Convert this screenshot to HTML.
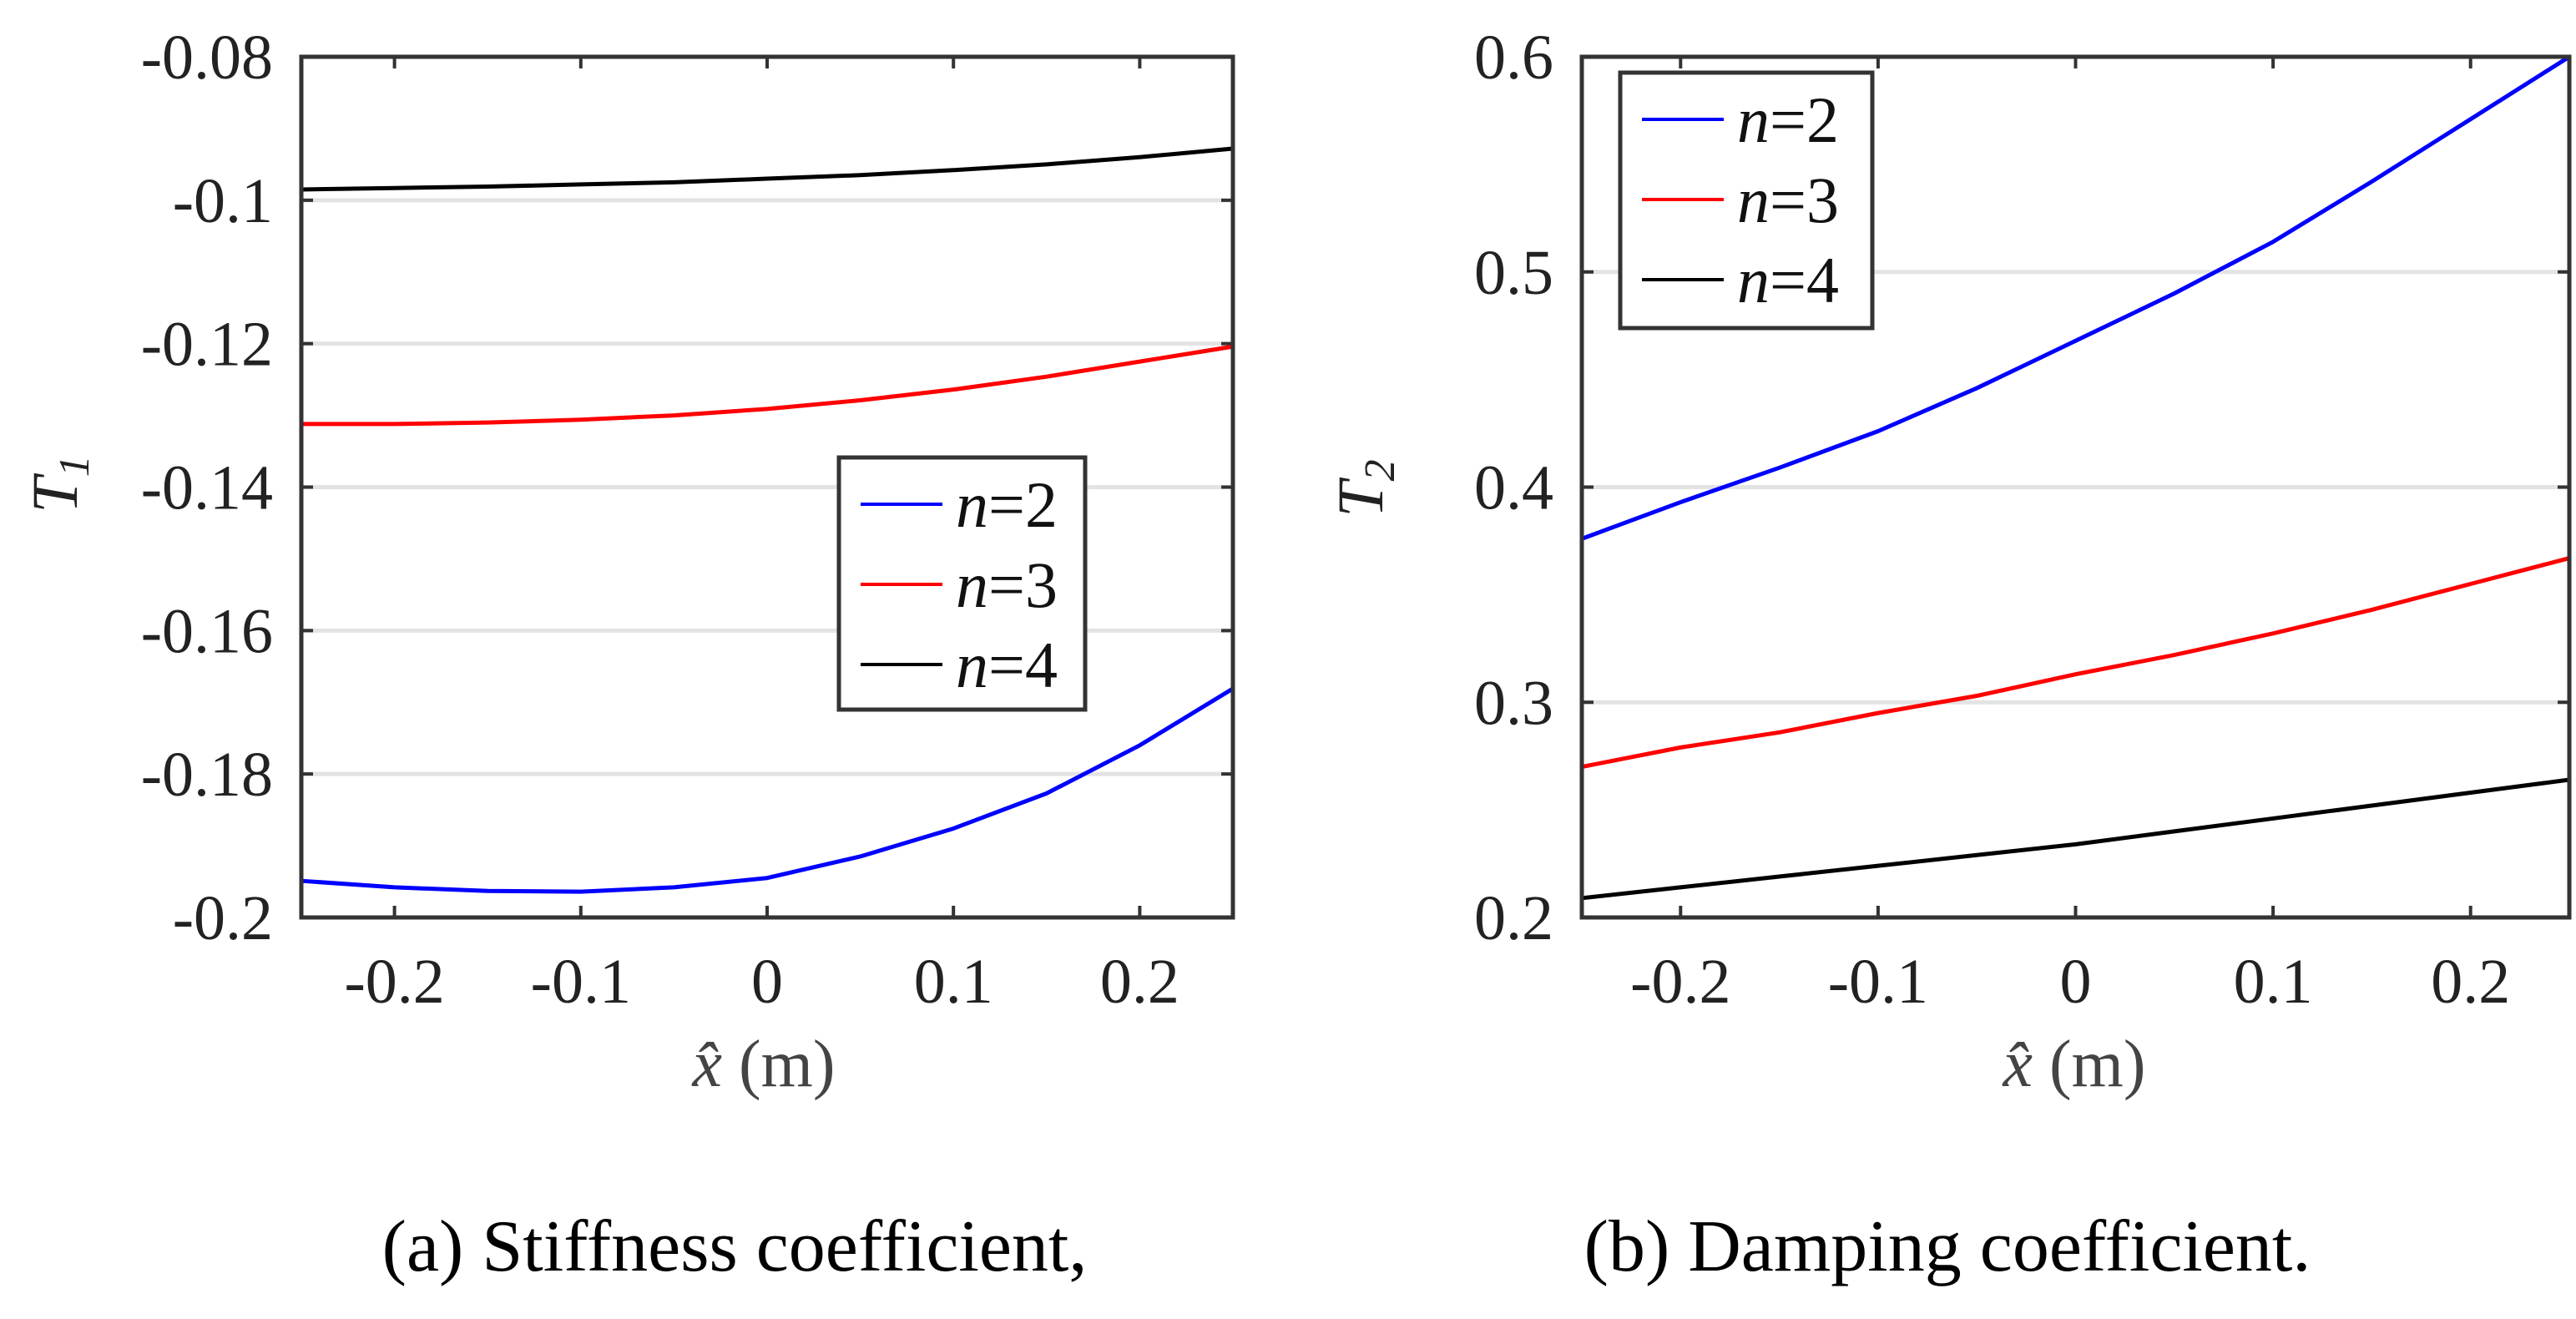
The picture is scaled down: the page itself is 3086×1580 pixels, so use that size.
<!DOCTYPE html>
<html><head><meta charset="utf-8"><style>
html,body{margin:0;padding:0;background:#fff;}
svg{display:block;}
</style></head><body>
<svg id="fig" width="3086" height="1580" viewBox="0 0 3086 1580" xmlns="http://www.w3.org/2000/svg" font-family="Liberation Serif, serif">
<g id="pa"></g>
<g id="pb"></g>
<text x="880" y="1522" font-size="88" text-anchor="middle" fill="#000">(a) Stiffness coefficient,</text>
<text x="2333" y="1522" font-size="88" text-anchor="middle" fill="#000">(b) Damping coefficient.</text>
</svg>
<script>
const xs = [-0.25,-0.2,-0.15,-0.1,-0.05,0,0.05,0.1,0.15,0.2,0.25];
const xTicks = [-0.2,-0.1,0,0.1,0.2];
const xTickLabels = ["-0.2","-0.1","0","0.1","0.2"];
const seriesNames = ["n=2","n=3","n=4"];
const seriesColors = ["#0000ff","#ff0000","#000000"];
const t1N2 = [-0.1949,-0.1958,-0.1963,-0.1964,-0.1958,-0.1945,-0.1915,-0.1876,-0.1827,-0.1760,-0.1681];
const t1N3 = [-0.1312,-0.1312,-0.1310,-0.1306,-0.1300,-0.1291,-0.1279,-0.1264,-0.1246,-0.1225,-0.1204];
const t1N4 = [-0.0985,-0.0983,-0.0981,-0.0978,-0.0975,-0.0970,-0.0965,-0.0958,-0.0950,-0.0940,-0.0928];
const t1Ticks = [-0.2,-0.18,-0.16,-0.14,-0.12,-0.1,-0.08];
const t1TickLabels = ["-0.2","-0.18","-0.16","-0.14","-0.12","-0.1","-0.08"];
const t2N2 = [0.376,0.393,0.409,0.426,0.446,0.468,0.490,0.514,0.542,0.571,0.600];
const t2N3 = [0.270,0.279,0.286,0.295,0.303,0.313,0.322,0.332,0.343,0.355,0.367];
const t2N4 = [0.209,0.214,0.219,0.224,0.229,0.234,0.240,0.246,0.252,0.258,0.264];
const t2Ticks = [0.2,0.3,0.4,0.5,0.6];
const t2TickLabels = ["0.2","0.3","0.4","0.5","0.6"];

const NS="http://www.w3.org/2000/svg";
function mk(parent,tag,attrs){const e=document.createElementNS(NS,tag);for(const k in attrs)e.setAttribute(k,attrs[k]);parent.appendChild(e);return e;}

function panel(g,cfg){
  const {L,R,T,B,ymin,ymax,yTicks,yLabels,series,legend,ylab,ysub,xlabCx}=cfg;
  const sx=v=>L+(v+0.25)/0.5*(R-L);
  const sy=v=>B-(v-ymin)/(ymax-ymin)*(B-T);
  yTicks.forEach((v,i)=>{
    if(v!==ymin&&v!==ymax){
      const gl=mk(g,'line',{x1:L,x2:R,y1:sy(v),y2:sy(v),stroke:'#e3e3e3','stroke-width':5});
      
      
    }
    const tk=mk(g,'path',{d:`M${L},${sy(v)}h14M${R},${sy(v)}h-14`,stroke:'#333','stroke-width':4});
    
    
    const t=mk(g,'text',{x:L-34,y:sy(v)+26,'font-size':76,'text-anchor':'end',fill:'#222'});
    t.textContent=yLabels[i];
    
    
  });
  xTicks.forEach((v,i)=>{
    const tk=mk(g,'path',{d:`M${sx(v)},${B}v-14M${sx(v)},${T}v14`,stroke:'#333','stroke-width':4});
    
    
    const t=mk(g,'text',{x:sx(v),y:B+102,'font-size':76,'text-anchor':'middle',fill:'#222'});
    t.textContent=xTickLabels[i];
    
    
  });
  series.forEach((ys,si)=>{
    const p=mk(g,'polyline',{points:xs.map((x,i)=>sx(x)+','+sy(ys[i])).join(' '),fill:'none',stroke:seriesColors[si],'stroke-width':5,'stroke-linejoin':'round'});
    
    
  });
  const fr=mk(g,'rect',{x:L,y:T,width:R-L,height:B-T,fill:'none',stroke:'#333','stroke-width':5});
  
  
  const lg=mk(g,'g',{});
  
  
  mk(lg,'rect',{x:legend.x,y:legend.y,width:legend.w,height:legend.h,fill:'#fff',stroke:'#333','stroke-width':5});
  seriesNames.forEach((n,i)=>{
    const yy=legend.y+56+i*96;
    const e=mk(lg,'g',{});
    
    
    mk(e,'line',{x1:legend.x+26,x2:legend.x+124,y1:yy,y2:yy,stroke:seriesColors[i],'stroke-width':4});
    const t=mk(e,'text',{x:legend.x+140,y:yy+27,'font-size':78,fill:'#111'});
    t.innerHTML='<tspan font-style="italic">n</tspan>='+n.slice(2);
  });
  const yl=mk(g,'text',{transform:`translate(${ylab.x},${ylab.y}) rotate(-90)`,'font-size':78,'text-anchor':'middle',fill:'#222'});
  yl.innerHTML='<tspan font-style="italic">T</tspan><tspan font-size="52" dy="14" font-style="italic">'+ysub+'</tspan>';
  
  
  const xl=mk(g,'text',{x:xlabCx,y:B+202,'font-size':80,'text-anchor':'middle',fill:'#444'});
  xl.innerHTML='<tspan font-style="italic">x̂</tspan> (m)';
  
  
}
panel(document.getElementById('pa'),{L:361,R:1477,T:68,B:1099,ymin:-0.2,ymax:-0.08,yTicks:t1Ticks,yLabels:t1TickLabels,series:[t1N2,t1N3,t1N4],legend:{x:1005,y:548,w:295,h:302},ylab:{x:92,y:580},ysub:'1',xlabCx:915});
panel(document.getElementById('pb'),{L:1895,R:3078,T:68,B:1099,ymin:0.2,ymax:0.6,yTicks:t2Ticks,yLabels:t2TickLabels,series:[t2N2,t2N3,t2N4],legend:{x:1941,y:87,w:302,h:306},ylab:{x:1656,y:585},ysub:'2',xlabCx:2485});
</script>
</body></html>
